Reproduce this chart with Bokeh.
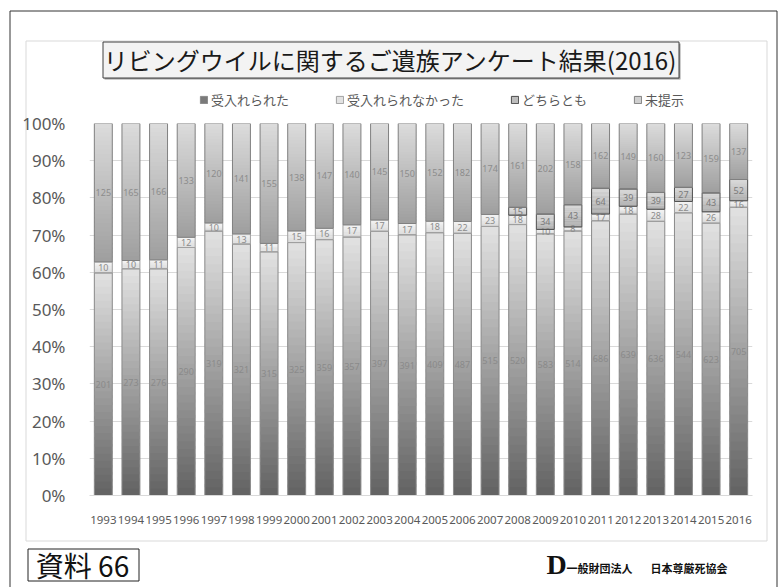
import numpy as np
from bokeh.plotting import figure
from bokeh.layouts import column
from bokeh.models import (ColumnDataSource, FactorRange, Range1d, FixedTicker,
                          NumeralTickFormatter, Legend, LegendItem, GridBox)
from bokeh.core.properties import value
from bokeh.embed import file_html
from bokeh.resources import INLINE

# ---------------- data ----------------
years = [str(y) for y in range(1993, 2017)]
accepted = [201, 273, 276, 290, 319, 321, 315, 325, 359, 357, 397, 391,
            409, 487, 515, 520, 583, 514, 686, 639, 636, 544, 623, 705]
rejected = [10, 10, 11, 12, 10, 13, 11, 15, 16, 17, 17, 17,
            18, 22, 23, 18, 10, 8, 17, 18, 28, 22, 26, 16]
neither = [0, 0, 0, 0, 0, 0, 0, 0, 0, 0, 0, 0,
           0, 0, 0, 15, 34, 43, 64, 39, 39, 27, 43, 52]
unpresented = [125, 165, 166, 133, 120, 141, 155, 138, 147, 140, 145, 150,
               152, 182, 174, 161, 202, 158, 162, 149, 160, 123, 159, 137]
series_names = ["受入れられた", "受入れられなかった", "どちらとも", "未提示"]
y_ticks = [0.0, 0.1, 0.2, 0.3, 0.4, 0.5, 0.6, 0.7, 0.8, 0.9, 1.0]
title_text = "リビングウイルに関するご遺族アンケート結果(2016)"
doc_label = "資料 66"
org_prefix = "一般財団法人"
org_name = "日本尊厳死協会"

# ---------------- layout ----------------
W, H = 784, 587
FL, FR, FT, FB = 89, 752, 123, 495
JP = "Noto Sans CJK JP"

# ---------- background page (frame = whole canvas, pixel coordinates) ----------
bg = figure(width=W, height=H, x_range=Range1d(0, W), y_range=Range1d(H, 0),
            output_backend="svg", toolbar_location=None,
            x_axis_location=None, y_axis_location=None,
            min_border=0, min_border_left=0, min_border_right=0,
            min_border_top=0, min_border_bottom=0)
bg.outline_line_color = None
bg.grid.visible = False
bg.background_fill_color = "white"
bg.border_fill_color = "white"

bg.quad(left=[9.5], right=[776.5], top=[10.5], bottom=[600],
        fill_color=None, line_color="#333333", line_width=1)
bg.quad(left=[25.5], right=[766.5], top=[40.5], bottom=[540.5],
        fill_color=None, line_color="#d9d9d9", line_width=1)
bg.quad(left=[104], right=[680], top=[43], bottom=[79],
        fill_color="#9a9a9a", line_color=None)
bg.quad(left=[102.5], right=[678.5], top=[41.5], bottom=[77.5],
        fill_color="#f3f3f3", line_color="#404040", line_width=1)
bg.text(x=[390], y=[59], text=[title_text], text_font=value(JP),
        text_font_size="24px", text_align="center", text_baseline="middle",
        text_color="#1a1a1a")
bg.quad(left=[27.5], right=[138.5], top=[548.5], bottom=[580.5],
        fill_color="white", line_color="#222222", line_width=1)
bg.text(x=[82], y=[564], text=[doc_label], text_font=value(JP),
        text_font_size="28px", text_align="center", text_baseline="middle",
        text_color="#111111")
bg.text(x=[556], y=[564], text=["D"], text_font=value("Liberation Serif"),
        text_font_size="28px", text_font_style="bold", text_align="center",
        text_baseline="middle", text_color="#111111")
bg.text(x=[566, 650], y=[567, 567], text=[org_prefix, org_name],
        text_font=value(JP), text_font_size="11px", text_font_style="bold",
        text_align="left", text_baseline="middle", text_color="#111111")

# legend swatches carried by off-canvas quads
outline = ["#8a8a8a", "#a0a0a0", "#4d4d4d", "#808080"]
legend_fill = ["#7a7a7a", "#e2e2e2", "#bdbdbd", "#cfcfcf"]
items = []
for s in range(4):
    r = bg.quad(left=[-100], right=[-90], top=[-100], bottom=[-90],
                fill_color=legend_fill[s], line_color=outline[s])
    items.append(LegendItem(label=series_names[s], renderers=[r]))
legend = Legend(items=items, orientation="horizontal", location=(199, H - 109),
                label_text_font=JP, label_text_font_size="13px",
                label_text_color="#595959", glyph_width=9, glyph_height=9,
                label_standoff=3, spacing=46, padding=0, margin=0,
                border_line_color=None, background_fill_alpha=0)
bg.add_layout(legend, "center")

# ---------- chart ----------
p = figure(width=W, height=H, x_range=FactorRange(*years), y_range=Range1d(0, 1),
           output_backend="svg", toolbar_location=None,
           min_border_left=FL, min_border_right=W - FR,
           min_border_top=FT, min_border_bottom=H - FB)
p.outline_line_color = None
p.background_fill_alpha = 0
p.border_fill_alpha = 0

vals = np.array([accepted, rejected, neither, unpresented], dtype=float)
tot = vals.sum(axis=0)
frac = vals / tot
cum_top = np.cumsum(frac, axis=0)
cum_bot = cum_top - frac

grad = [((98, 98, 98), (226, 226, 226)),
        ((212, 212, 212), (242, 242, 242)),
        ((168, 168, 168), (214, 214, 214)),
        ((158, 158, 158), (220, 220, 220))]
label_col = ["#8a8a8a", "#8c8c8c", "#7a7a7a", "#8c8c8c"]
BW = 0.65
N = 32

xs, bs, ts, cs = [], [], [], []
for s in range(4):
    c0 = np.array(grad[s][0], dtype=float)
    c1 = np.array(grad[s][1], dtype=float)
    for i, yr in enumerate(years):
        if vals[s, i] <= 0:
            continue
        b, t = cum_bot[s, i], cum_top[s, i]
        h = (t - b) / N
        for k in range(N):
            col = c0 + (c1 - c0) * ((k + 0.5) / N)
            xs.append(yr)
            bs.append(b + h * k)
            ts.append(min(t, b + h * (k + 1) + h * 0.4))
            cs.append("#%02x%02x%02x" % tuple(int(round(v)) for v in col))
p.vbar(x="x", bottom="b", top="t", width=BW, fill_color="c", line_color=None,
       source=ColumnDataSource(dict(x=xs, b=bs, t=ts, c=cs)))

for s in range(4):
    keep = [i for i in range(len(years)) if vals[s, i] > 0]
    src = ColumnDataSource(dict(
        x=[years[i] for i in keep],
        b=[cum_bot[s, i] for i in keep],
        t=[cum_top[s, i] for i in keep],
        m=[(cum_bot[s, i] + cum_top[s, i]) / 2 for i in keep],
        lab=[str(int(vals[s, i])) for i in keep]))
    p.vbar(x="x", bottom="b", top="t", width=BW, fill_alpha=0,
           line_color=outline[s], line_width=1, source=src)
    p.text(x="x", y="m", text="lab", source=src, text_font=value("Noto Sans"),
           text_font_size="9px", text_align="center", text_baseline="middle",
           text_color=label_col[s])

p.xgrid.grid_line_color = None
p.ygrid.grid_line_color = "#d9d9d9"
p.ygrid.ticker = FixedTicker(ticks=y_ticks)
p.yaxis.ticker = FixedTicker(ticks=y_ticks)
p.yaxis.formatter = NumeralTickFormatter(format="0%")
p.yaxis.axis_line_color = None
p.yaxis.major_tick_line_color = None
p.yaxis.minor_tick_line_color = None
p.yaxis.major_label_standoff = 18
p.yaxis.major_label_text_font = "Noto Sans"
p.yaxis.major_label_text_font_size = "17px"
p.yaxis.major_label_text_color = "#595959"
p.xaxis.axis_line_color = "#d9d9d9"
p.xaxis.major_tick_line_color = None
p.xaxis.major_label_standoff = 14
p.xaxis.major_label_text_font = "Noto Sans"
p.xaxis.major_label_text_font_size = "11.5px"
p.xaxis.major_label_text_color = "#595959"

page = GridBox(children=[(column(bg), 0, 0), (column(p), 0, 0)])
open("out.html", "w").write(file_html(page, INLINE))
